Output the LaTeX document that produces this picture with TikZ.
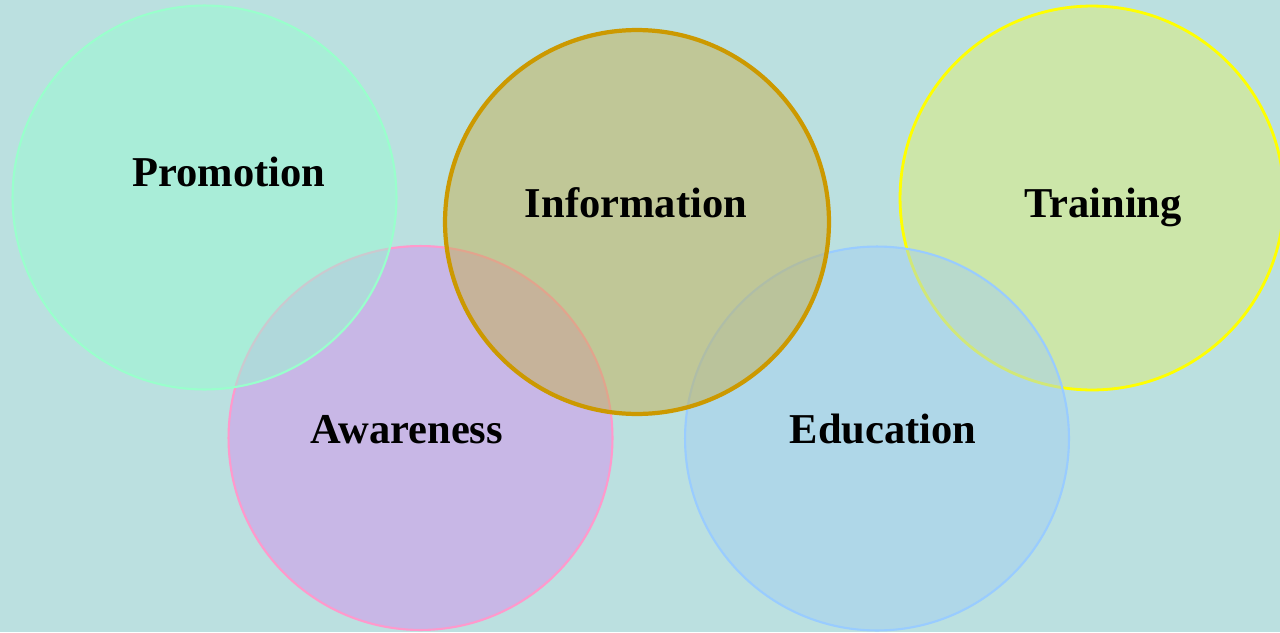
\documentclass[tikz,border=0pt]{standalone}
\usepackage{fontspec}
\setmainfont{Liberation Serif}
\usepackage{tikz}
\definecolor{bgblue}{RGB}{187,224,224}
\definecolor{promfill}{RGB}{153,250,210}
\definecolor{promline}{RGB}{153,255,204}
\definecolor{awarefill}{RGB}{213,144,236}
\definecolor{awareline}{RGB}{255,153,204}
\definecolor{infofill}{RGB}{197,176,80}
\definecolor{infoline}{RGB}{204,153,0}
\definecolor{trainfill}{RGB}{221,236,116}
\definecolor{trainline}{RGB}{255,255,0}
\definecolor{edufill}{RGB}{165,208,240}
\definecolor{eduline}{RGB}{153,204,255}
\tikzset{
    bubble/.style = {
        circle,
        inner sep=0pt,
        outer sep=0pt,
        minimum size=7.68cm,
        fill opacity=0.5,
        draw opacity=1,
        line width=1.2pt
    },
    bubblelabel/.style = {
        font=\bfseries\fontsize{24.2}{27}\selectfont,
        text=black,
        anchor=base,
        inner sep=0pt
    }
}
\begin{document}
\begin{tikzpicture}[x=0.02cm,y=-0.02cm]
            \fill [bgblue] (0,0) rectangle (1280,632);
            \useasboundingbox (0,0) rectangle (1280,632);
            % lower row first, then the upper row on top
            \node [bubble, fill=awarefill, draw=awareline] (aware) at (420.5,438) {};
            \node [bubble, fill=trainfill, draw=trainline, line width=1.6pt] (train) at (1092,198) {};
            \node [bubble, fill=edufill, draw=eduline] (edu) at (877,438.5) {};
            \node [bubble, fill=promfill, draw=promline] (prom) at (204.5,197.5) {};
            \node [bubble, fill=infofill, draw=infoline, line width=2.4pt] (info) at (637,222) {};
            % labels
            \node [bubblelabel] (promtext) at (229,186) {Promotion};
            \node [bubblelabel] (infotext) at (636,217) {Information};
            \node [bubblelabel] (traintext) at (1103,217) {Training};
            \node [bubblelabel] (awaretext) at (407,443) {Awareness};
            \node [bubblelabel] (edutext) at (883,443) {Education};
        \end{tikzpicture}
\end{document}
